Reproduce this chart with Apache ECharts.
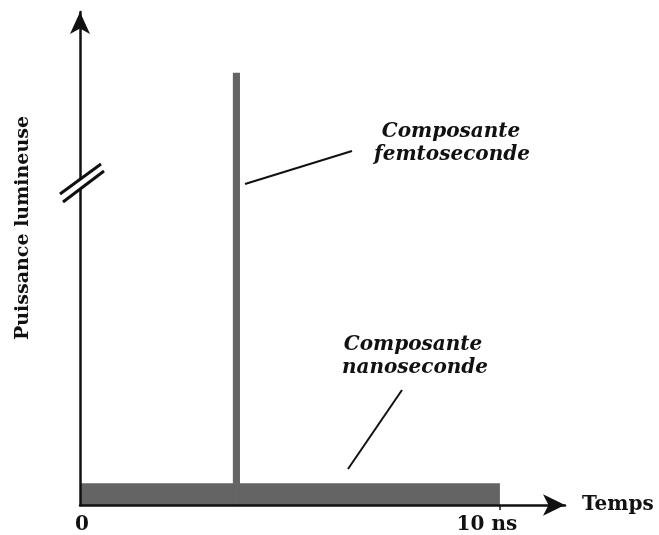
<!DOCTYPE html>
<html>
<head>
<meta charset="utf-8">
<script src="https://cdn.jsdelivr.net/npm/echarts@6/dist/echarts.min.js"></script>
<style>
  html, body { margin: 0; padding: 0; background: #fff; }
  #chart { width: 659px; height: 535px; }
</style>
</head>
<body>
<div id="chart"></div>
<script>
// Time axis (ns): labelled ticks
const timeTicks = [0, 10];
const timeTickLabels = ['0', '10 ns'];

// Emission components: start / end time (ns) and light power (arbitrary units)
const components = ['nanoseconde', 'femtoseconde'];
const startNs = [0, 3.64];
const endNs = [10, 3.81];
const power = [4.4, 87.7];

const FONT = 'DejaVu Serif';
const INK = '#111';

const chart = echarts.init(document.getElementById('chart'), null, { renderer: 'canvas' });

const pulses = components.map((name, i) => [startNs[i], endNs[i], power[i], name]);

const labelText = {
  color: INK,
  fontFamily: FONT,
  fontWeight: 'bold',
  fontSize: 20
};

chart.setOption({
  animation: false,
  backgroundColor: '#fff',
  grid: { left: 80, right: 94, top: 12, bottom: 28, containLabel: false },
  xAxis: {
    type: 'value',
    min: 0,
    max: 11.55,
    z: 5,
    splitLine: { show: false },
    axisLine: {
      show: true,
      onZero: false,
      symbol: ['none', 'arrow'],
      symbolSize: [16, 22],
      lineStyle: { color: INK, width: 2.5 }
    },
    axisTick: { show: true, customValues: [timeTicks[1]], length: 5, lineStyle: { color: INK, width: 1.5 } },
    axisLabel: {
      show: true,
      customValues: timeTicks,
      // the "10 ns" label sits slightly left of its tick
      formatter: (v) => (v === 0 ? '{z|' : '{t|') + timeTickLabels[timeTicks.indexOf(v)] + '}',
      margin: 10,
      rich: {
        z: Object.assign({ padding: [0, 0, 0, 4] }, labelText),
        t: Object.assign({ padding: [0, 26, 0, 0] }, labelText)
      }
    },
    name: 'Temps',
    nameLocation: 'end',
    nameGap: 17,
    nameTextStyle: Object.assign({ verticalAlign: 'middle', padding: [0, 0, 18, 0] }, labelText)
  },
  yAxis: {
    type: 'value',
    min: 0,
    max: 100,
    z: 5,
    splitLine: { show: false },
    axisTick: { show: false },
    axisLabel: { show: false },
    axisLine: {
      show: true,
      onZero: false,
      symbol: ['none', 'arrow'],
      symbolSize: [15, 22],
      lineStyle: { color: INK, width: 2.5 }
    }
  },
  series: [{
    type: 'custom',
    z: 2,
    data: pulses,
    renderItem: (params, api) => {
      const p0 = api.coord([api.value(0), api.value(2)]);
      const p1 = api.coord([api.value(1), 0]);
      return {
        type: 'rect',
        shape: { x: p0[0], y: p0[1], width: p1[0] - p0[0], height: p1[1] - p0[1] },
        style: { fill: '#646464' }
      };
    }
  }],
  graphic: [
    // break marks on the power axis
    {
      type: 'polygon', z: 10,
      shape: { points: [[60, 193], [101, 164], [104, 171], [63, 201]] },
      style: { fill: '#fff' }
    },
    { type: 'line', z: 11, shape: { x1: 60, y1: 194, x2: 101, y2: 164 }, style: { stroke: INK, lineWidth: 3 } },
    { type: 'line', z: 11, shape: { x1: 63, y1: 202, x2: 104, y2: 171 }, style: { stroke: INK, lineWidth: 3 } },
    // power axis title
    {
      type: 'text', z: 11, x: 23, y: 228, rotation: Math.PI / 2,
      style: {
        text: 'Puissance lumineuse', fill: INK, font: 'bold 19px "DejaVu Serif"',
        textAlign: 'center', textVerticalAlign: 'middle'
      }
    },
    // femtosecond annotation
    { type: 'line', z: 11, shape: { x1: 245, y1: 184, x2: 352, y2: 151 }, style: { stroke: INK, lineWidth: 2 } },
    {
      type: 'text', z: 11, x: 451, y: 132,
      style: { text: 'Composante', fill: INK, font: 'italic bold 20px "DejaVu Serif"', textAlign: 'center', textVerticalAlign: 'middle' }
    },
    {
      type: 'text', z: 11, x: 452, y: 155,
      style: { text: 'femtoseconde', fill: INK, font: 'italic bold 20px "DejaVu Serif"', textAlign: 'center', textVerticalAlign: 'middle' }
    },
    // nanosecond annotation
    { type: 'line', z: 11, shape: { x1: 402, y1: 390, x2: 348, y2: 469 }, style: { stroke: INK, lineWidth: 2 } },
    {
      type: 'text', z: 11, x: 413, y: 345,
      style: { text: 'Composante', fill: INK, font: 'italic bold 20px "DejaVu Serif"', textAlign: 'center', textVerticalAlign: 'middle' }
    },
    {
      type: 'text', z: 11, x: 415, y: 368,
      style: { text: 'nanoseconde', fill: INK, font: 'italic bold 20px "DejaVu Serif"', textAlign: 'center', textVerticalAlign: 'middle' }
    }
  ]
});
</script>
</body>
</html>
